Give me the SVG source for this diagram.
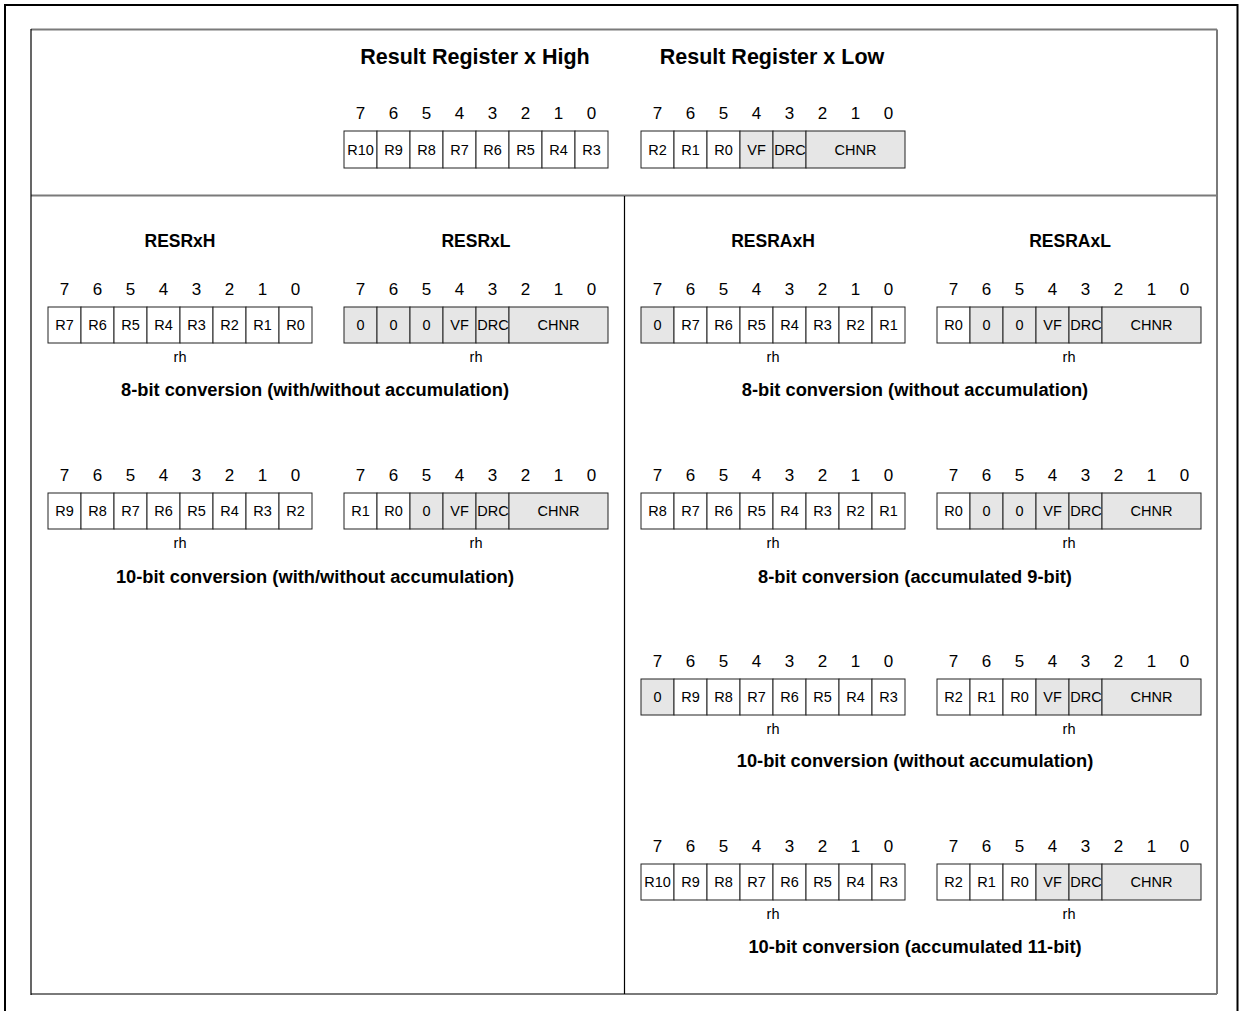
<svg xmlns="http://www.w3.org/2000/svg" width="1239" height="1011" viewBox="0 0 1239 1011">
<style>
text{font-family:"Liberation Sans",Arial,Helvetica,sans-serif;fill:#000}
.title{font-size:21.5px;font-weight:bold;text-anchor:middle}
.hdr{font-size:17.5px;font-weight:bold;text-anchor:middle}
.cap{font-size:18.3px;font-weight:bold;text-anchor:middle}
.bit{font-size:17px;text-anchor:middle}
.c{font-size:14.5px;text-anchor:middle}
.rh{font-size:14.5px;text-anchor:middle}
.w{fill:#fff;stroke:#222;stroke-width:1}
.g{fill:#e6e6e6;stroke:#222;stroke-width:1}
.frame{fill:none;stroke:#000;stroke-width:2}
.gl{stroke:#7a7a7a;stroke-width:2;fill:none}
.bl{stroke:#000;stroke-width:1.2;fill:none}
</style>
<defs>
<g id="bits">
<text class="bit" x="16.5" y="-12">7</text><text class="bit" x="49.5" y="-12">6</text><text class="bit" x="82.5" y="-12">5</text><text class="bit" x="115.5" y="-12">4</text><text class="bit" x="148.5" y="-12">3</text><text class="bit" x="181.5" y="-12">2</text><text class="bit" x="214.5" y="-12">1</text><text class="bit" x="247.5" y="-12">0</text>
</g>
<g id="tailL">
<rect class="g" x="99" y="0" width="33" height="36"/><rect class="g" x="132" y="0" width="33" height="36"/><rect class="g" x="165" y="0" width="99" height="36"/>
<text class="c" x="115.5" y="23">VF</text><text class="c" x="149" y="23">DRC</text><text class="c" x="214.5" y="23">CHNR</text>
</g>
</defs>

<g id="frame">
<rect class="frame" x="5" y="5" width="1232.5" height="1100"/>
<line class="gl" x1="31" y1="29.5" x2="1217" y2="29.5"/>
<line class="gl" x1="1217" y1="29.5" x2="1217" y2="994"/>
<line class="gl" x1="31" y1="994" x2="1217" y2="994"/>
<line class="gl" x1="31" y1="195.5" x2="1217" y2="195.5"/>
<line class="bl" x1="31" y1="29" x2="31" y2="995"/>
<line class="bl" x1="624.5" y1="196" x2="624.5" y2="994"/>
</g>

<g id="connectors"></g>

<!-- Top -->
<g id="top-titles">
<text class="title" x="475" y="64">Result Register x High</text>
<text class="title" x="772" y="64">Result Register x Low</text>
</g>
<g id="top-high" transform="translate(344,131)">
<use href="#bits"/>
<rect class="w" x="0" y="0" width="33" height="37"/><rect class="w" x="33" y="0" width="33" height="37"/><rect class="w" x="66" y="0" width="33" height="37"/><rect class="w" x="99" y="0" width="33" height="37"/><rect class="w" x="132" y="0" width="33" height="37"/><rect class="w" x="165" y="0" width="33" height="37"/><rect class="w" x="198" y="0" width="33" height="37"/><rect class="w" x="231" y="0" width="33" height="37"/>
<text class="c" x="16.5" y="24">R10</text><text class="c" x="49.5" y="24">R9</text><text class="c" x="82.5" y="24">R8</text><text class="c" x="115.5" y="24">R7</text><text class="c" x="148.5" y="24">R6</text><text class="c" x="181.5" y="24">R5</text><text class="c" x="214.5" y="24">R4</text><text class="c" x="247.5" y="24">R3</text>
</g>
<g id="top-low" transform="translate(641,131)">
<use href="#bits"/>
<rect class="w" x="0" y="0" width="33" height="37"/><rect class="w" x="33" y="0" width="33" height="37"/><rect class="w" x="66" y="0" width="33" height="37"/>
<rect class="g" x="99" y="0" width="33" height="37"/><rect class="g" x="132" y="0" width="33" height="37"/><rect class="g" x="165" y="0" width="99" height="37"/>
<text class="c" x="16.5" y="24">R2</text><text class="c" x="49.5" y="24">R1</text><text class="c" x="82.5" y="24">R0</text>
<text class="c" x="115.5" y="24">VF</text><text class="c" x="149" y="24">DRC</text><text class="c" x="214.5" y="24">CHNR</text>
</g>

<!-- Headers -->
<g id="headers">
<text class="hdr" x="180" y="247">RESRxH</text>
<text class="hdr" x="476" y="247">RESRxL</text>
<text class="hdr" x="773" y="247">RESRAxH</text>
<text class="hdr" x="1070" y="247">RESRAxL</text>
</g>

<!-- Left row 1 -->
<g id="L1-high" transform="translate(48,307)">
<use href="#bits"/>
<rect class="w" x="0" y="0" width="33" height="36"/><rect class="w" x="33" y="0" width="33" height="36"/><rect class="w" x="66" y="0" width="33" height="36"/><rect class="w" x="99" y="0" width="33" height="36"/><rect class="w" x="132" y="0" width="33" height="36"/><rect class="w" x="165" y="0" width="33" height="36"/><rect class="w" x="198" y="0" width="33" height="36"/><rect class="w" x="231" y="0" width="33" height="36"/>
<text class="c" x="16.5" y="23">R7</text><text class="c" x="49.5" y="23">R6</text><text class="c" x="82.5" y="23">R5</text><text class="c" x="115.5" y="23">R4</text><text class="c" x="148.5" y="23">R3</text><text class="c" x="181.5" y="23">R2</text><text class="c" x="214.5" y="23">R1</text><text class="c" x="247.5" y="23">R0</text>
<text class="rh" x="132" y="55">rh</text>
</g>
<g id="L1-low" transform="translate(344,307)">
<use href="#bits"/>
<rect class="g" x="0" y="0" width="33" height="36"/><rect class="g" x="33" y="0" width="33" height="36"/><rect class="g" x="66" y="0" width="33" height="36"/>
<text class="c" x="16.5" y="23">0</text><text class="c" x="49.5" y="23">0</text><text class="c" x="82.5" y="23">0</text>
<use href="#tailL"/>
<text class="rh" x="132" y="55">rh</text>
</g>
<text id="L1-cap" class="cap" x="315" y="396">8-bit conversion (with/without accumulation)</text>

<!-- Left row 2 -->
<g id="L2-high" transform="translate(48,493)">
<use href="#bits"/>
<rect class="w" x="0" y="0" width="33" height="36"/><rect class="w" x="33" y="0" width="33" height="36"/><rect class="w" x="66" y="0" width="33" height="36"/><rect class="w" x="99" y="0" width="33" height="36"/><rect class="w" x="132" y="0" width="33" height="36"/><rect class="w" x="165" y="0" width="33" height="36"/><rect class="w" x="198" y="0" width="33" height="36"/><rect class="w" x="231" y="0" width="33" height="36"/>
<text class="c" x="16.5" y="23">R9</text><text class="c" x="49.5" y="23">R8</text><text class="c" x="82.5" y="23">R7</text><text class="c" x="115.5" y="23">R6</text><text class="c" x="148.5" y="23">R5</text><text class="c" x="181.5" y="23">R4</text><text class="c" x="214.5" y="23">R3</text><text class="c" x="247.5" y="23">R2</text>
<text class="rh" x="132" y="55">rh</text>
</g>
<g id="L2-low" transform="translate(344,493)">
<use href="#bits"/>
<rect class="w" x="0" y="0" width="33" height="36"/><rect class="w" x="33" y="0" width="33" height="36"/><rect class="g" x="66" y="0" width="33" height="36"/>
<text class="c" x="16.5" y="23">R1</text><text class="c" x="49.5" y="23">R0</text><text class="c" x="82.5" y="23">0</text>
<use href="#tailL"/>
<text class="rh" x="132" y="55">rh</text>
</g>
<text id="L2-cap" class="cap" x="315" y="583">10-bit conversion (with/without accumulation)</text>

<!-- Right row 1 -->
<g id="R1-high" transform="translate(641,307)">
<use href="#bits"/>
<rect class="g" x="0" y="0" width="33" height="36"/><rect class="w" x="33" y="0" width="33" height="36"/><rect class="w" x="66" y="0" width="33" height="36"/><rect class="w" x="99" y="0" width="33" height="36"/><rect class="w" x="132" y="0" width="33" height="36"/><rect class="w" x="165" y="0" width="33" height="36"/><rect class="w" x="198" y="0" width="33" height="36"/><rect class="w" x="231" y="0" width="33" height="36"/>
<text class="c" x="16.5" y="23">0</text><text class="c" x="49.5" y="23">R7</text><text class="c" x="82.5" y="23">R6</text><text class="c" x="115.5" y="23">R5</text><text class="c" x="148.5" y="23">R4</text><text class="c" x="181.5" y="23">R3</text><text class="c" x="214.5" y="23">R2</text><text class="c" x="247.5" y="23">R1</text>
<text class="rh" x="132" y="55">rh</text>
</g>
<g id="R1-low" transform="translate(937,307)">
<use href="#bits"/>
<rect class="w" x="0" y="0" width="33" height="36"/><rect class="g" x="33" y="0" width="33" height="36"/><rect class="g" x="66" y="0" width="33" height="36"/>
<text class="c" x="16.5" y="23">R0</text><text class="c" x="49.5" y="23">0</text><text class="c" x="82.5" y="23">0</text>
<use href="#tailL"/>
<text class="rh" x="132" y="55">rh</text>
</g>
<text id="R1-cap" class="cap" x="915" y="396">8-bit conversion (without accumulation)</text>

<!-- Right row 2 -->
<g id="R2-high" transform="translate(641,493)">
<use href="#bits"/>
<rect class="w" x="0" y="0" width="33" height="36"/><rect class="w" x="33" y="0" width="33" height="36"/><rect class="w" x="66" y="0" width="33" height="36"/><rect class="w" x="99" y="0" width="33" height="36"/><rect class="w" x="132" y="0" width="33" height="36"/><rect class="w" x="165" y="0" width="33" height="36"/><rect class="w" x="198" y="0" width="33" height="36"/><rect class="w" x="231" y="0" width="33" height="36"/>
<text class="c" x="16.5" y="23">R8</text><text class="c" x="49.5" y="23">R7</text><text class="c" x="82.5" y="23">R6</text><text class="c" x="115.5" y="23">R5</text><text class="c" x="148.5" y="23">R4</text><text class="c" x="181.5" y="23">R3</text><text class="c" x="214.5" y="23">R2</text><text class="c" x="247.5" y="23">R1</text>
<text class="rh" x="132" y="55">rh</text>
</g>
<g id="R2-low" transform="translate(937,493)">
<use href="#bits"/>
<rect class="w" x="0" y="0" width="33" height="36"/><rect class="g" x="33" y="0" width="33" height="36"/><rect class="g" x="66" y="0" width="33" height="36"/>
<text class="c" x="16.5" y="23">R0</text><text class="c" x="49.5" y="23">0</text><text class="c" x="82.5" y="23">0</text>
<use href="#tailL"/>
<text class="rh" x="132" y="55">rh</text>
</g>
<text id="R2-cap" class="cap" x="915" y="583">8-bit conversion (accumulated 9-bit)</text>

<!-- Right row 3 -->
<g id="R3-high" transform="translate(641,679)">
<use href="#bits"/>
<rect class="g" x="0" y="0" width="33" height="36"/><rect class="w" x="33" y="0" width="33" height="36"/><rect class="w" x="66" y="0" width="33" height="36"/><rect class="w" x="99" y="0" width="33" height="36"/><rect class="w" x="132" y="0" width="33" height="36"/><rect class="w" x="165" y="0" width="33" height="36"/><rect class="w" x="198" y="0" width="33" height="36"/><rect class="w" x="231" y="0" width="33" height="36"/>
<text class="c" x="16.5" y="23">0</text><text class="c" x="49.5" y="23">R9</text><text class="c" x="82.5" y="23">R8</text><text class="c" x="115.5" y="23">R7</text><text class="c" x="148.5" y="23">R6</text><text class="c" x="181.5" y="23">R5</text><text class="c" x="214.5" y="23">R4</text><text class="c" x="247.5" y="23">R3</text>
<text class="rh" x="132" y="55">rh</text>
</g>
<g id="R3-low" transform="translate(937,679)">
<use href="#bits"/>
<rect class="w" x="0" y="0" width="33" height="36"/><rect class="w" x="33" y="0" width="33" height="36"/><rect class="w" x="66" y="0" width="33" height="36"/>
<text class="c" x="16.5" y="23">R2</text><text class="c" x="49.5" y="23">R1</text><text class="c" x="82.5" y="23">R0</text>
<use href="#tailL"/>
<text class="rh" x="132" y="55">rh</text>
</g>
<text id="R3-cap" class="cap" x="915" y="767">10-bit conversion (without accumulation)</text>

<!-- Right row 4 -->
<g id="R4-high" transform="translate(641,864)">
<use href="#bits"/>
<rect class="w" x="0" y="0" width="33" height="36"/><rect class="w" x="33" y="0" width="33" height="36"/><rect class="w" x="66" y="0" width="33" height="36"/><rect class="w" x="99" y="0" width="33" height="36"/><rect class="w" x="132" y="0" width="33" height="36"/><rect class="w" x="165" y="0" width="33" height="36"/><rect class="w" x="198" y="0" width="33" height="36"/><rect class="w" x="231" y="0" width="33" height="36"/>
<text class="c" x="16.5" y="23">R10</text><text class="c" x="49.5" y="23">R9</text><text class="c" x="82.5" y="23">R8</text><text class="c" x="115.5" y="23">R7</text><text class="c" x="148.5" y="23">R6</text><text class="c" x="181.5" y="23">R5</text><text class="c" x="214.5" y="23">R4</text><text class="c" x="247.5" y="23">R3</text>
<text class="rh" x="132" y="55">rh</text>
</g>
<g id="R4-low" transform="translate(937,864)">
<use href="#bits"/>
<rect class="w" x="0" y="0" width="33" height="36"/><rect class="w" x="33" y="0" width="33" height="36"/><rect class="w" x="66" y="0" width="33" height="36"/>
<text class="c" x="16.5" y="23">R2</text><text class="c" x="49.5" y="23">R1</text><text class="c" x="82.5" y="23">R0</text>
<use href="#tailL"/>
<text class="rh" x="132" y="55">rh</text>
</g>
<text id="R4-cap" class="cap" x="915" y="953">10-bit conversion (accumulated 11-bit)</text>
</svg>
